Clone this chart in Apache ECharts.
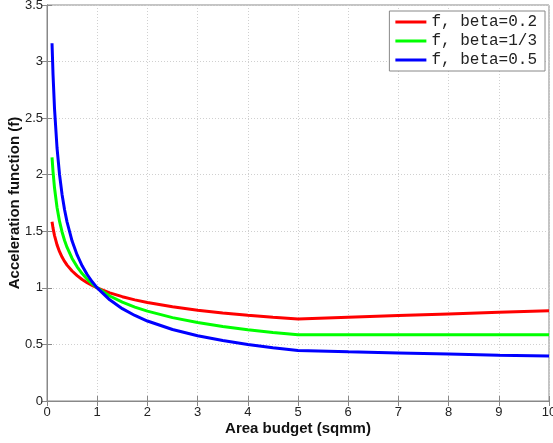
<!DOCTYPE html>
<html><head><meta charset="utf-8">
<script src="https://cdn.jsdelivr.net/npm/echarts@6/dist/echarts.min.js"></script>
<style>html,body{margin:0;padding:0;background:#fff}#c{width:553px;height:443px}</style>
</head><body><div id="c"></div>
<script>
const xs = [0.1,0.12,0.15,0.2,0.25,0.3,0.35,0.4,0.5,0.6,0.7,0.8,0.9,1,1.25,1.5,1.75,2,2.5,3,3.5,4,4.5,5,6,7,8,9,10];
const redVals   = [1.585,1.528,1.462,1.380,1.320,1.272,1.234,1.201,1.149,1.108,1.074,1.046,1.021,1,0.956,0.922,0.894,0.871,0.833,0.803,0.778,0.758,0.740,0.725,0.740,0.755,0.770,0.785,0.798];
const greenVals = [2.154,2.028,1.882,1.710,1.587,1.494,1.419,1.357,1.260,1.186,1.126,1.077,1.036,1,0.928,0.874,0.830,0.794,0.737,0.693,0.659,0.630,0.606,0.585,0.585,0.585,0.585,0.585,0.585];
const blueVals  = [3.162,2.887,2.582,2.236,2.000,1.826,1.690,1.581,1.414,1.291,1.195,1.118,1.054,1,0.894,0.816,0.756,0.707,0.632,0.577,0.535,0.500,0.471,0.447,0.435,0.425,0.415,0.405,0.398];
const seriesNames = ['f, beta=0.2','f, beta=1/3','f, beta=0.5'];
const colors = ['#ff0000','#00ff00','#0000ff'];
const xLabel = 'Area budget (sqmm)';
const yLabel = 'Acceleration function (f)';

const pairs = v => xs.map((x,i)=>[x,v[i]]);
const chart = echarts.init(document.getElementById('c'));
const axisCommon = {
  axisLine:{show:true,lineStyle:{color:'#888',width:1}},
  axisTick:{show:true,inside:true,length:5,lineStyle:{color:'#888'}},
};
chart.setOption({
  animation:false,
  grid:{left:47,right:4,top:5,bottom:42,show:true,borderColor:'#888',borderWidth:1,containLabel:false,outerBoundsMode:'none'},
  legend:{
    data:seriesNames, orient:'vertical', right:8, top:11,
    backgroundColor:'#fff', borderColor:'#888', borderWidth:1,
    padding:[3,8,3,6], itemGap:3, itemWidth:31, itemHeight:3, icon:'rect',
    textStyle:{fontFamily:'Liberation Mono',fontSize:16,lineHeight:16,color:'#222'}
  },
  xAxis:[{
    type:'value',min:0,max:10,interval:1,
    ...axisCommon,
    axisLabel:{color:'#222',fontFamily:'Liberation Sans',fontSize:13,margin:5},
    splitLine:{show:true,lineStyle:{color:'#d0d0d0',type:[1,2]}},
    name:xLabel,nameLocation:'middle',nameGap:20,nameMoveOverlap:false,
    nameTextStyle:{fontFamily:'Liberation Sans',fontWeight:'bold',fontSize:15,color:'#111'}
  },{
    type:'value',min:0,max:10,interval:1,position:'top',
    ...axisCommon,axisLabel:{show:false},splitLine:{show:false}
  }],
  yAxis:[{
    type:'value',min:0,max:3.5,interval:0.5,
    ...axisCommon,
    axisLabel:{color:'#222',fontFamily:'Liberation Sans',fontSize:13,margin:4},
    splitLine:{show:true,lineStyle:{color:'#d0d0d0',type:[1,2]}},
    name:yLabel,nameLocation:'middle',nameGap:25,nameMoveOverlap:false,
    nameTextStyle:{fontFamily:'Liberation Sans',fontWeight:'bold',fontSize:15,color:'#111'}
  },{
    type:'value',min:0,max:3.5,interval:0.5,position:'right',
    ...axisCommon,axisLabel:{show:false},splitLine:{show:false}
  }],
  series:[redVals,greenVals,blueVals].map((v,i)=>({
    name:seriesNames[i],type:'line',data:pairs(v),smooth:false,
    showSymbol:false,symbol:'none',
    lineStyle:{color:colors[i],width:3},itemStyle:{color:colors[i]}
  }))
});
</script></body></html>
